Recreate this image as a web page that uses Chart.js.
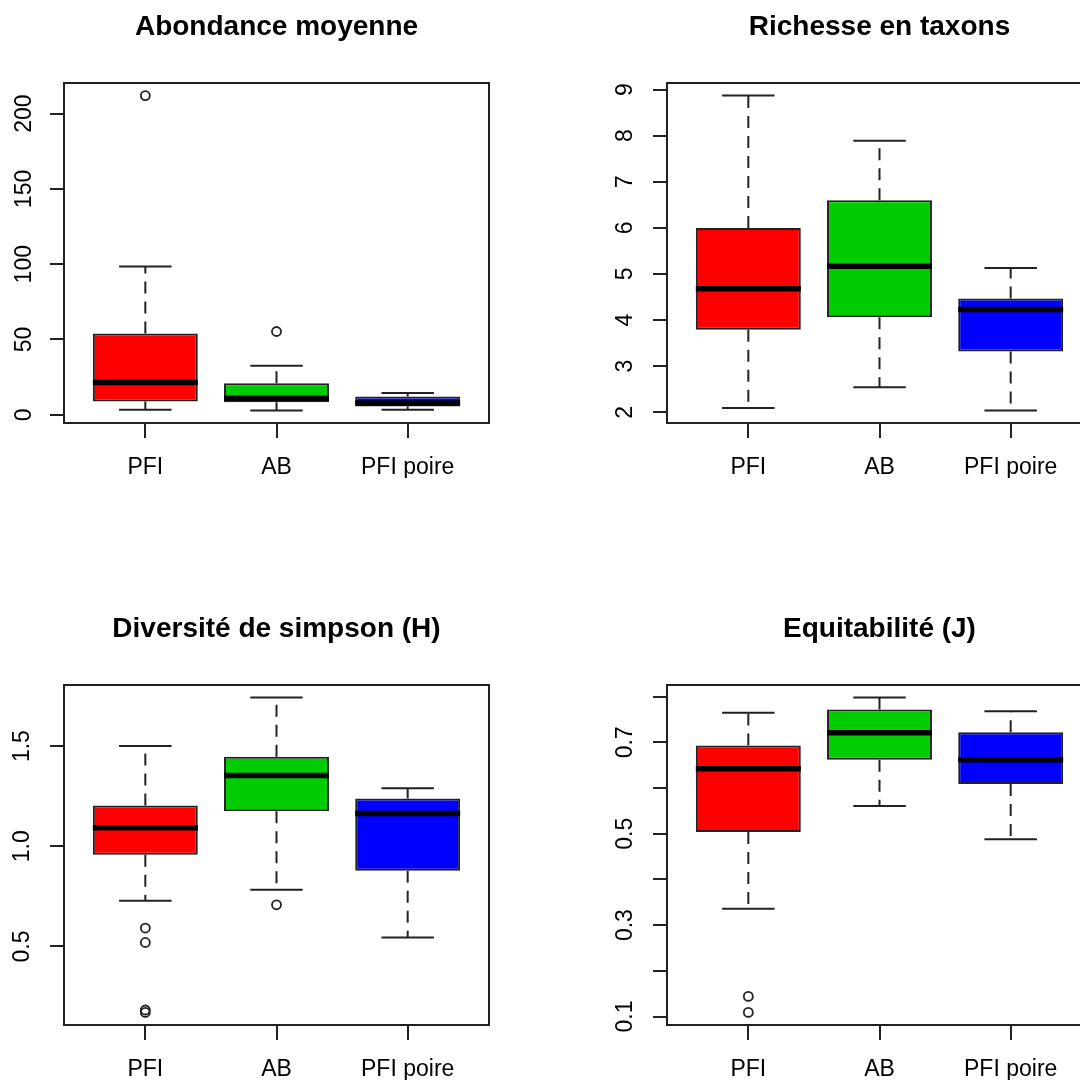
<!DOCTYPE html>
<html>
<head>
<meta charset="utf-8">
<title>Boxplots</title>
<script src="https://cdn.jsdelivr.net/npm/chart.js@4.4.1/dist/chart.umd.min.js"></script>
<style>
  html, body { margin: 0; padding: 0; background: #fff; }
  body { width: 1080px; height: 1080px; overflow: hidden; position: relative; }
  canvas { position: absolute; }
</style>
</head>
<body>
<canvas id="abondance" width="553" height="478" style="left:0;top:0"></canvas>
<canvas id="richesse" width="553" height="478" style="left:603px;top:0"></canvas>
<canvas id="simpson" width="553" height="478" style="left:0;top:602px"></canvas>
<canvas id="equit" width="553" height="478" style="left:603px;top:602px"></canvas>
<script>
// groups and colours shared by the four panels
const groups = ['PFI', 'AB', 'PFI poire'];
const boxColors = ['#ff0000', '#00cd00', '#0000ff'];

// Abondance moyenne
const abondLow = [3.3, 2.9, 3.3];
const abondQ1 = [8.8, 8.4, 5.5];
const abondMed = [21.5, 11, 7.8];
const abondQ3 = [54, 21, 12.2];
const abondHigh = [98.5, 32.5, 14.4];
const abondOut = [[212], [55.3], []];
const abondTicks = [0, 50, 100, 150, 200];

// Richesse en taxons
const richLow = [2.09, 2.54, 2.04];
const richQ1 = [3.79, 4.06, 3.32];
const richMed = [4.68, 5.17, 4.23];
const richQ3 = [6.0, 6.6, 4.47];
const richHigh = [8.87, 7.89, 5.13];
const richOut = [[], [], []];
const richTicks = [2, 3, 4, 5, 6, 7, 8, 9];

// Diversité de simpson (H)
const simpLow = [0.728, 0.783, 0.545];
const simpQ1 = [0.958, 1.175, 0.878];
const simpMed = [1.092, 1.353, 1.163];
const simpQ3 = [1.203, 1.447, 1.238];
const simpHigh = [1.50, 1.742, 1.29];
const simpOut = [[0.592, 0.52, 0.183, 0.171], [0.708], []];
const simpTicks = [0.5, 1.0, 1.5];
const simpLabels = ['0.5', '1.0', '1.5'];

// Equitabilité (J)
const equiLow = [0.336, 0.561, 0.488];
const equiQ1 = [0.504, 0.662, 0.609];
const equiMed = [0.642, 0.721, 0.662];
const equiQ3 = [0.693, 0.772, 0.722];
const equiHigh = [0.765, 0.798, 0.768];
const equiOut = [[0.144, 0.109], [], []];
const equiTicks = [0.1, 0.2, 0.3, 0.4, 0.5, 0.6, 0.7, 0.8];
const equiLabels = ['0.1', '', '0.3', '', '0.5', '', '0.7', ''];

Chart.defaults.font.family = "'Liberation Sans', Arial, Helvetica, sans-serif";
Chart.defaults.color = '#000';

// box around the plotting region, like R's frame
const framePlugin = {
    id: 'frame',
    afterDatasetsDraw(chart) {
        const a = chart.chartArea;
        const ctx = chart.ctx;
        ctx.save();
        ctx.strokeStyle = '#222';
        ctx.lineWidth = 2;
        ctx.strokeRect(a.left, a.top, a.right - a.left, a.bottom - a.top);
        ctx.restore();
    }
};

function drawBoxPanel(id, title, low, q1, med, q3, high, outliers, yTicks, yLabels, yPad) {
    const all = low.concat(high, outliers.flat());
    const dmin = Math.min(...all);
    const dmax = Math.max(...all);
    const ext = (dmax - dmin) * 0.04;

    const whiskers = [];
    const caps = [];
    const medians = [];
    const points = [];
    groups.forEach((g, i) => {
        const x = i + 1;
        whiskers.push({x: x, y: q3[i]}, {x: x, y: high[i]}, {x: x, y: null},
                      {x: x, y: q1[i]}, {x: x, y: low[i]}, {x: x, y: null});
        caps.push({x: x - 0.2, y: high[i]}, {x: x + 0.2, y: high[i]}, {x: x, y: null},
                  {x: x - 0.2, y: low[i]}, {x: x + 0.2, y: low[i]}, {x: x, y: null});
        medians.push({x: x - 0.4, y: med[i]}, {x: x + 0.4, y: med[i]}, {x: x, y: null});
        outliers[i].forEach(v => points.push({x: x, y: v}));
    });

    const lineBase = {type: 'line', pointRadius: 0, tension: 0, spanGaps: false, fill: false};

    new Chart(document.getElementById(id), {
        type: 'bar',
        data: {
            datasets: [
                Object.assign({}, lineBase, {data: medians, borderColor: '#000', borderWidth: 5.5, borderCapStyle: 'butt', order: 0}),
                Object.assign({}, lineBase, {data: caps, borderColor: '#222', borderWidth: 2, order: 1}),
                Object.assign({}, lineBase, {data: whiskers, borderColor: '#222', borderWidth: 2, borderDash: [12, 8], order: 2}),
                Object.assign({}, lineBase, {data: points, showLine: false, pointRadius: 4.5, pointBorderWidth: 1.8,
                    pointBackgroundColor: 'rgba(0,0,0,0)', pointBorderColor: '#222', order: 3}),
                {
                    type: 'bar',
                    data: groups.map((g, i) => ({x: i + 1, y: [q1[i], q3[i]]})),
                    backgroundColor: boxColors,
                    borderColor: '#222',
                    borderWidth: 2,
                    borderSkipped: false,
                    categoryPercentage: 1,
                    barPercentage: 0.8,
                    order: 5
                }
            ]
        },
        options: {
            responsive: false,
            animation: false,
            events: [],
            layout: {padding: 0},
            plugins: {
                legend: {display: false},
                tooltip: {enabled: false},
                title: {
                    display: true,
                    text: title,
                    color: '#000',
                    font: {size: 28, weight: 'bold', lineHeight: 1.2},
                    padding: {top: 10.7, bottom: 38.7}
                }
            },
            scales: {
                x: {
                    type: 'linear',
                    min: 0.38,
                    max: 3.62,
                    offset: false,
                    afterBuildTicks: s => { s.ticks = groups.map((g, i) => ({value: i + 1})); },
                    afterFit: s => { s.height = 55; },
                    grid: {drawOnChartArea: false, offset: false, color: '#222', lineWidth: 2, tickLength: 15},
                    border: {display: false},
                    ticks: {
                        autoSkip: false,
                        maxRotation: 0,
                        padding: 16,
                        font: {size: 23},
                        color: '#000',
                        callback: v => groups[v - 1] || ''
                    }
                },
                y: {
                    type: 'linear',
                    position: 'left',
                    min: dmin - ext,
                    max: dmax + ext,
                    afterBuildTicks: s => { s.ticks = yTicks.map(v => ({value: v})); },
                    afterFit: s => { s.width = 64; },
                    grid: {drawOnChartArea: false, color: '#222', lineWidth: 2, tickLength: 14},
                    border: {display: false},
                    ticks: {
                        autoSkip: false,
                        minRotation: 90,
                        maxRotation: 90,
                        crossAlign: 'center',
                        padding: yPad,
                        font: {size: 23},
                        color: '#000',
                        callback: (v, i) => yLabels ? yLabels[i] : String(v)
                    }
                },
                yr: {
                    type: 'linear',
                    position: 'right',
                    afterFit: s => { s.width = 64; },
                    grid: {display: false},
                    border: {display: false},
                    ticks: {display: false}
                }
            }
        },
        plugins: [framePlugin]
    });
}

drawBoxPanel('abondance', 'Abondance moyenne', abondLow, abondQ1, abondMed, abondQ3, abondHigh, abondOut, abondTicks, null, 6);
drawBoxPanel('richesse', 'Richesse en taxons', richLow, richQ1, richMed, richQ3, richHigh, richOut, richTicks, null, 21);
drawBoxPanel('simpson', 'Diversité de simpson (H)', simpLow, simpQ1, simpMed, simpQ3, simpHigh, simpOut, simpTicks, simpLabels, 11);
drawBoxPanel('equit', 'Equitabilité (J)', equiLow, equiQ1, equiMed, equiQ3, equiHigh, equiOut, equiTicks, equiLabels, 11);
</script>
</body>
</html>
